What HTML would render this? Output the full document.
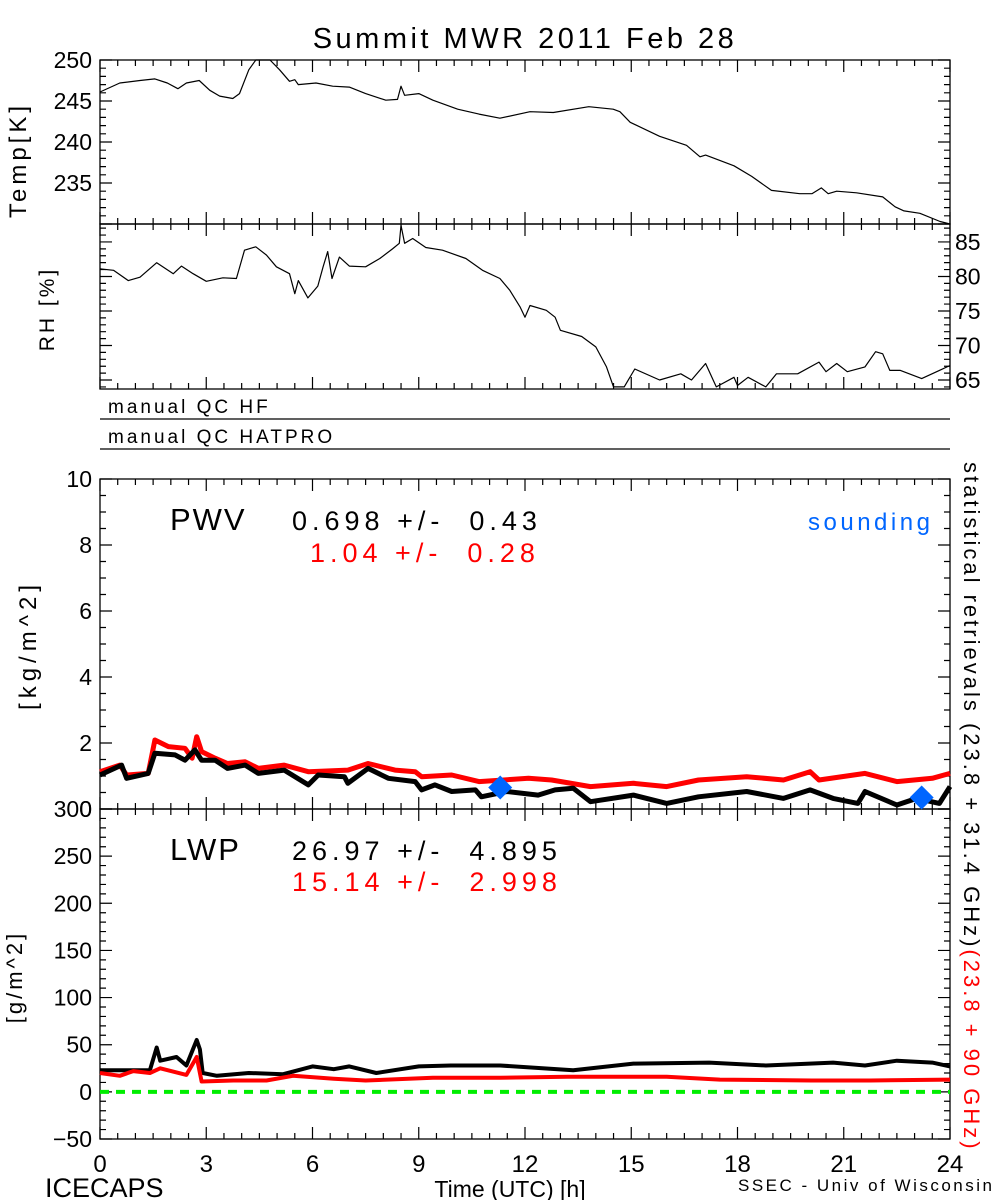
<!DOCTYPE html>
<html><head><meta charset="utf-8"><style>
html,body{margin:0;padding:0;background:#fff;}
svg{display:block;font-family:"Liberation Sans",sans-serif;}
</style></head><body>
<svg id="c" width="1000" height="1200" viewBox="0 0 1000 1200" xmlns="http://www.w3.org/2000/svg">
<text x="525" y="48" font-size="29" letter-spacing="3.5" text-anchor="middle">Summit MWR 2011 Feb 28</text>
<text x="108" y="413" font-size="19" letter-spacing="3">manual QC HF</text>
<line x1="100" y1="419" x2="950" y2="419" stroke="#000" stroke-width="1.3"/>
<text x="108" y="443" font-size="19" letter-spacing="3">manual QC HATPRO</text>
<line x1="100" y1="449" x2="950" y2="449" stroke="#000" stroke-width="1.3"/>
<text font-size="24" letter-spacing="4" transform="translate(26,160) rotate(-90)" text-anchor="middle">Temp[K]</text>
<text font-size="21" letter-spacing="3" transform="translate(54,309) rotate(-90)" text-anchor="middle">RH [%]</text>
<text font-size="24" letter-spacing="5" transform="translate(36,645) rotate(-90)" text-anchor="middle">[kg/m^2]</text>
<text font-size="22" letter-spacing="3" transform="translate(22,977) rotate(-90)" text-anchor="middle">[g/m^2]</text>
<text font-size="22" letter-spacing="3" transform="translate(964,462) rotate(90)"><tspan fill="#000">statistical retrievals (23.8 + 31.4 GHz)</tspan><tspan fill="#ff0000">(23.8 + 90 GHz)</tspan></text>
<text x="170" y="530" font-size="31" letter-spacing="2">PWV</text>
<text x="292" y="530" font-size="27" letter-spacing="5" xml:space="preserve">0.698 +/-  0.43</text>
<text x="310" y="562" font-size="27" letter-spacing="5" fill="#ff0000" xml:space="preserve">1.04 +/-  0.28</text>
<text x="808" y="530" font-size="24" letter-spacing="3.5" fill="#0066ff">sounding</text>
<text x="170" y="860" font-size="31" letter-spacing="2">LWP</text>
<text x="292" y="860" font-size="27" letter-spacing="5" xml:space="preserve">26.97 +/-  4.895</text>
<text x="292" y="891" font-size="27" letter-spacing="5" fill="#ff0000" xml:space="preserve">15.14 +/-  2.998</text>
<text x="45" y="1197" font-size="27">ICECAPS</text>
<text x="510" y="1197" font-size="23" text-anchor="middle">Time (UTC) [h]</text>
<text x="738" y="1191" font-size="17" letter-spacing="2.5">SSEC - Univ of Wisconsin</text>
</svg>
<script>
const tempH=[0,0.56,1.13,1.55,1.9,2.2,2.44,2.8,3.1,3.38,3.75,3.94,4.2,4.4,4.8,5.07,5.35,5.5,5.6,6.1,6.57,7.04,7.5,8.07,8.4,8.5,8.6,9.0,9.4,10.1,10.7,11.29,12.14,12.8,13.8,14.49,14.68,14.97,15.8,16.56,16.94,17.1,17.9,18.4,18.96,19.76,20.1,20.37,20.56,20.8,21.36,22.1,22.45,22.7,23.15,23.72,24];
const tempV=[246.1,247.2,247.5,247.7,247.2,246.5,247.2,247.5,246.3,245.6,245.3,245.9,248.8,250,250,248.8,247.4,247.6,247,247.2,246.8,246.7,245.9,245.1,245.2,246.8,245.7,245.9,245.1,244.0,243.4,242.9,243.7,243.6,244.3,244.0,243.7,242.4,240.7,239.6,238.2,238.4,237.1,235.8,234.1,233.7,233.7,234.4,233.7,234.0,233.8,233.3,232.1,231.6,231.3,230.3,230];
const rhH=[0,0.38,0.8,1.13,1.6,2.07,2.3,2.63,3.0,3.47,3.85,4.08,4.4,4.7,4.98,5.35,5.5,5.6,5.87,6.15,6.3,6.43,6.55,6.76,7.04,7.5,7.9,8.26,8.45,8.5,8.6,8.83,9.2,9.67,10.33,10.8,11.29,11.57,11.86,12.0,12.14,12.6,12.85,13.0,13.6,14.0,14.3,14.5,14.8,15.1,15.8,16.4,16.7,17.1,17.4,17.9,18.0,18.3,18.8,19.1,19.7,20.3,20.5,20.8,21.1,21.6,21.9,22.1,22.3,22.6,23.2,23.7,24];
const rhV=[81.1,80.9,79.4,79.9,82,80.4,81.5,80.4,79.3,79.8,79.7,83.8,84.3,83.1,81.4,80.4,77.5,79.4,76.9,78.6,81.4,83.6,79.7,82.8,81.5,81.4,82.6,84,84.8,87.4,84.8,85.5,84.2,83.8,82.6,80.9,79.7,78,75.6,74.1,75.8,75.1,74.1,72.2,71.3,69.8,66.9,64,64,66.6,65,65.9,65,67.4,64,65.4,64.2,65.4,64,65.9,65.9,67.6,66.2,67.4,66.2,66.9,69.1,68.8,66.4,66.4,65.2,66.4,67.1];
const pwvBlkH=[0,0.61,0.75,1.36,1.55,2.12,2.4,2.68,2.87,3.25,3.6,4.1,4.47,5.2,5.88,6.16,6.9,7.0,7.57,8.14,8.9,9.08,9.46,9.93,10.6,10.77,11.48,12.37,12.85,13.36,13.85,15.06,16.0,16.9,18.26,19.3,20.05,20.7,21.4,21.6,22.5,23.06,23.7,24];
const pwvBlkV=[1.03,1.33,0.93,1.08,1.69,1.64,1.48,1.79,1.48,1.48,1.23,1.33,1.08,1.18,0.73,1.03,0.98,0.78,1.23,0.93,0.83,0.58,0.73,0.53,0.58,0.37,0.53,0.42,0.58,0.63,0.22,0.42,0.17,0.37,0.53,0.32,0.58,0.32,0.17,0.53,0.12,0.32,0.17,0.68];
const pwvRedH=[0,0.56,0.75,1.36,1.55,1.93,2.4,2.6,2.73,2.87,3.25,3.6,4.1,4.47,5.2,5.88,7.0,7.57,8.33,8.9,9.08,9.93,10.7,12.1,12.75,13.85,15.06,16.0,16.9,18.26,19.3,20.05,20.3,21.6,22.5,23.5,24];
const pwvRedV=[1.13,1.33,1.03,1.08,2.09,1.89,1.84,1.54,2.19,1.74,1.54,1.38,1.43,1.23,1.33,1.13,1.18,1.38,1.18,1.13,0.98,1.03,0.83,0.93,0.88,0.68,0.78,0.68,0.88,0.98,0.88,1.13,0.88,1.08,0.83,0.93,1.08];
const soundH=[11.3,23.2];
const soundV=[0.65,0.35];
const lwpBlkH=[0,1.41,1.6,1.7,2.16,2.44,2.73,2.82,2.9,3.3,4.2,5.17,5.6,6.0,6.6,7.04,7.8,9.0,9.9,11.3,13.36,15.06,17.2,18.8,20.7,21.6,22.5,23.5,24];
const lwpBlkV=[23,23,47,33,37,28,55,45,20,17,20,18.7,23,27,24,27,20,27,28,28,23,30,31,28,31,28,33,31,27];
const lwpRedH=[0,0.56,0.94,1.41,1.7,2.44,2.73,2.87,3.76,4.7,5.45,6.6,7.5,9.4,11.3,13.2,16.0,17.5,20.1,21.75,24];
const lwpRedV=[20,17,22,20,25,18,37,11,12,12,17,14,12,15,15,16,16,13,12,12,13];
const xTicks=[0,3,6,9,12,15,18,21,24];
const tempTicks=[250,245,240,235];
const rhTicks=[85,80,75,70,65];
const pwvTicks=[10,8,6,4,2,0];
const lwpTicks=[300,250,200,150,100,50,0,-50];

const NS="http://www.w3.org/2000/svg";
const svg=document.getElementById('c');
const X0=100,X1=950;
const xs=h=>X0+(h/24)*(X1-X0);
function mk(tag,attrs,parent){const e=document.createElementNS(NS,tag);for(const k in attrs)e.setAttribute(k,attrs[k]);(parent||svg).appendChild(e);return e;}
const panels={
 temp:{top:60,bot:224,min:230,max:250},
 rh:{top:224,bot:389,min:63.7,max:87.6},
 pwv:{top:479,bot:809,min:0,max:10},
 lwp:{top:809,bot:1139,min:-50,max:300}
};
function ys(p,v){return p.bot-(v-p.min)/(p.max-p.min)*(p.bot-p.top);}
function frame(p,name,minorStep,majorStep){
 const r=mk('rect',{x:X0,y:p.top,width:X1-X0,height:p.bot-p.top,fill:'none',stroke:'#000','stroke-width':1.3});
 
 
 let d='';
 for(let h=0;h<=24.001;h+=0.5){const x=xs(h);const L=(Math.abs(h%3)<1e-6)?12:6;d+=`M${x},${p.bot}v${-L}M${x},${p.top}v${L}`;}
 const s=Math.ceil(p.min/minorStep)*minorStep;
 for(let v=s;v<=p.max+1e-6;v+=minorStep){const y=ys(p,v);const maj=Math.abs(v/majorStep-Math.round(v/majorStep))<1e-6;const L=maj?12:6;d+=`M${X0},${y}h${L}M${X1},${y}h${-L}`;}
 const t=mk('path',{d:d,stroke:'#000','stroke-width':1.2,fill:'none'});
 
 
}
function line(p,H,V,color,w,name){
 const d=H.map((h,i)=>(i?'L':'M')+xs(h).toFixed(1)+','+ys(p,V[i]).toFixed(1)).join('');
 const e=mk('path',{d:d,stroke:color,'stroke-width':w,fill:'none','stroke-linejoin':'round'});
 
 
}
function ylabels(p,ticks,x,anchor,name){
 ticks.forEach(v=>{const t=mk('text',{x:x,y:ys(p,v)+8,'font-size':23,'text-anchor':anchor});t.textContent=v<0?'\u2212'+(-v):String(v);
 
 });
}
frame(panels.temp,'temp-panel',1,5);
frame(panels.rh,'rh-panel',1,5);
frame(panels.pwv,'pwv-panel',0.5,2);
frame(panels.lwp,'lwp-panel',10,50);
ylabels(panels.temp,tempTicks,92,'end','temp');
ylabels(panels.rh,rhTicks,955,'start','rh');
ylabels(panels.pwv,pwvTicks,92,'end','pwv');
ylabels(panels.lwp,lwpTicks,92,'end','lwp');
xTicks.forEach(h=>{const t=mk('text',{x:xs(h),y:1172,'font-size':24,'text-anchor':'middle'});t.textContent=String(h);
 
 });
line(panels.temp,tempH,tempV,'#000',1.2,'temp-line');
line(panels.rh,rhH,rhV,'#000',1.2,'rh-line');
line(panels.pwv,pwvRedH,pwvRedV,'#ff0000',5,'pwv-red-line');
line(panels.pwv,pwvBlkH,pwvBlkV,'#000',5,'pwv-black-line');
const g=mk('line',{x1:X0,x2:X1,y1:ys(panels.lwp,0),y2:ys(panels.lwp,0),stroke:'#00ee00','stroke-width':4,'stroke-dasharray':'9,7'});


line(panels.lwp,lwpBlkH,lwpBlkV,'#000',4,'lwp-black-line');
line(panels.lwp,lwpRedH,lwpRedV,'#ff0000',4,'lwp-red-line');
soundH.forEach((h,i)=>{const x=xs(h),y=ys(panels.pwv,soundV[i]);const e=mk('polygon',{points:`${x},${y-12} ${x+12},${y} ${x},${y+12} ${x-12},${y}`,fill:'#0066ff'});
 
 });
</script>
</body></html>
